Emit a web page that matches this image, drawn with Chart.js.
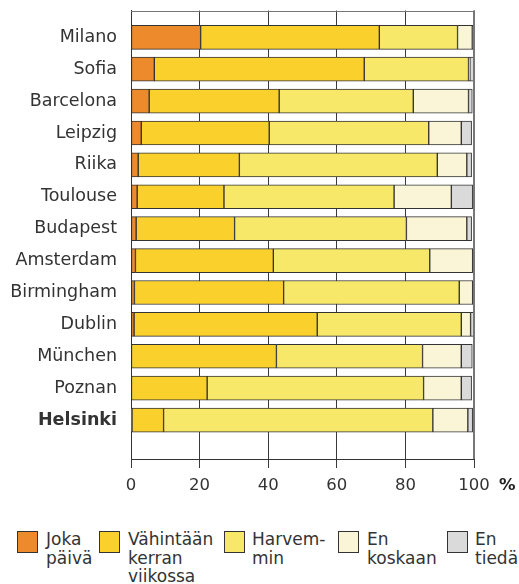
<!DOCTYPE html>
<html>
<head>
<meta charset="utf-8">
<script src="https://cdn.jsdelivr.net/npm/chart.js@4/dist/chart.umd.min.js"></script>
<style>
  html, body { margin: 0; padding: 0; background: #fff; }
  #wrap { position: relative; width: 519px; height: 584px; overflow: hidden;
          font-family: "DejaVu Sans", Verdana, sans-serif; color: #333; }
  #c { position: absolute; left: 0; top: 0; }
  .sw { position: absolute; top: 531px; width: 19px; height: 20px; border: 1px solid #333; box-sizing: content-box; }
  .lt { position: absolute; top: 530px; font-size: 17px; line-height: 18.5px; white-space: nowrap; }
</style>
</head>
<body>
<div id="wrap">
  <canvas id="c" width="519" height="510"></canvas>
  <div id="legend"></div>
</div>
<script>
// ── data (percent of respondents) ──────────────────────────
const cities = ['Milano', 'Sofia', 'Barcelona', 'Leipzig', 'Riika', 'Toulouse', 'Budapest',
                'Amsterdam', 'Birmingham', 'Dublin', 'München', 'Poznan', 'Helsinki'];
const jokaPaiva  = [20.3, 6.8, 5.3, 3.0, 2.1, 1.8, 1.5, 1.3, 1.0, 0.9, 0, 0, 0.3];
const vahintaan  = [52.1, 61.2, 37.9, 37.3, 29.5, 25.3, 28.7, 40.2, 43.5, 53.4, 42.4, 22.2, 9.2];
const harvemmin  = [22.8, 30.4, 39.1, 46.5, 57.7, 49.6, 50.1, 45.6, 51.2, 42.0, 42.6, 63.1, 78.5];
const enKoskaan  = [4.3, 0.4, 16.1, 9.5, 8.6, 16.7, 17.6, 12.5, 3.9, 2.7, 11.3, 11.0, 10.2];
const enTieda    = [0.5, 1.2, 1.1, 3.0, 1.4, 6.2, 1.4, 0.4, 0.4, 1.0, 3.2, 3.0, 1.4];
const xTicks     = [0, 20, 40, 60, 80, 100];

const seriesNames = ['Joka päivä', 'Vähintään kerran viikossa', 'Harvemmin', 'En koskaan', 'En tiedä'];
const legendLines = [['Joka', 'päivä'], ['Vähintään', 'kerran', 'viikossa'], ['Harvem-', 'min'], ['En', 'koskaan'], ['En', 'tiedä']];
const seriesVals  = [jokaPaiva, vahintaan, harvemmin, enKoskaan, enTieda];
const colors      = ['#EC8A2C', '#F9D02C', '#F8E86A', '#FAF5D6', '#DADADA'];

const FONT = '"DejaVu Sans", Verdana, sans-serif';
const TICK_SIZE = 16.5, TICK_LEN = 9, TICK_PAD = 8;
const BOLD_ROW = cities.indexOf('Helsinki');

// ── html legend ───────────────────────────────────────────
const swX = [17, 99, 224, 338, 447];
const txX = [46, 128, 252, 367, 475];
const lg = document.getElementById('legend');
legendLines.forEach((lines, k) => {
  const sw = document.createElement('div');
  sw.className = 'sw';
  sw.style.left = swX[k] + 'px';
  sw.style.background = colors[k];
  sw.title = seriesNames[k];
  const t = document.createElement('div');
  t.className = 'lt';
  t.style.left = txX[k] + 'px';
  t.innerHTML = lines.join('<br>');
  lg.appendChild(sw);
  lg.appendChild(t);
});

// frame top/right + bold "%" after the 100 tick
const extras = {
  id: 'extras',
  afterDraw(chart) {
    const { ctx, chartArea: a, scales } = chart;
    ctx.save();
    ctx.strokeStyle = '#777';
    ctx.lineWidth = 1;
    ctx.beginPath();
    ctx.moveTo(Math.round(a.left), Math.round(a.top) + 0.5);
    ctx.lineTo(Math.round(a.right), Math.round(a.top) + 0.5);
    ctx.stroke();
    ctx.lineWidth = 2;
    ctx.beginPath();
    ctx.moveTo(Math.round(a.right), a.top);
    ctx.lineTo(Math.round(a.right), a.bottom);
    ctx.stroke();

    // same row as the tick labels: axis + tick + padding + half line height
    ctx.fillStyle = '#222';
    ctx.font = 'bold ' + TICK_SIZE + 'px ' + FONT;
    ctx.textBaseline = 'middle';
    ctx.textAlign = 'left';
    ctx.fillText('%', scales.x.getPixelForValue(100) + 25, a.bottom + TICK_LEN + TICK_PAD + TICK_SIZE * 0.6);
    ctx.restore();
  }
};

new Chart(document.getElementById('c'), {
  type: 'bar',
  data: {
    datasets: seriesVals.map((vals, k) => ({
      label: seriesNames[k],
      data: vals.map((v, i) => ({ x: v, y: i })),
      backgroundColor: colors[k],
      borderColor: '#333',
      borderWidth: 1,
      borderSkipped: false,
      barThickness: 24,
      stack: 'all'
    }))
  },
  options: {
    indexAxis: 'y',
    responsive: false,
    animation: false,
    layout: { padding: { left: 0, right: 45, top: 9, bottom: 0 } },
    plugins: { legend: { display: false }, tooltip: { enabled: false } },
    scales: {
      x: {
        type: 'linear', stacked: true, min: 0, max: 100,
        afterBuildTicks: s => { s.ticks = xTicks.map(v => ({ value: v })); },
        afterFit: s => { s.height = 51; },
        ticks: { color: '#333', font: { family: FONT, size: TICK_SIZE }, padding: TICK_PAD, maxRotation: 0 },
        grid: { color: '#3a3a3a', tickLength: TICK_LEN },
        border: { color: '#333' }
      },
      y: {
        type: 'linear', reverse: true, offset: false, min: -0.84, max: 13.22,
        afterFit: s => { s.width = 131; },
        ticks: {
          stepSize: 1, autoSkip: false, includeBounds: true, padding: 0, color: '#333',
          callback: v => cities[v],
          font: c => ({ family: FONT, size: 17.5, weight: c.tick && c.tick.value === BOLD_ROW ? 'bold' : 'normal' })
        },
        grid: { display: false, drawTicks: true, tickLength: 14 },
        border: { display: true, color: '#333' }
      }
    }
  },
  plugins: [extras]
});
</script>
</body>
</html>
